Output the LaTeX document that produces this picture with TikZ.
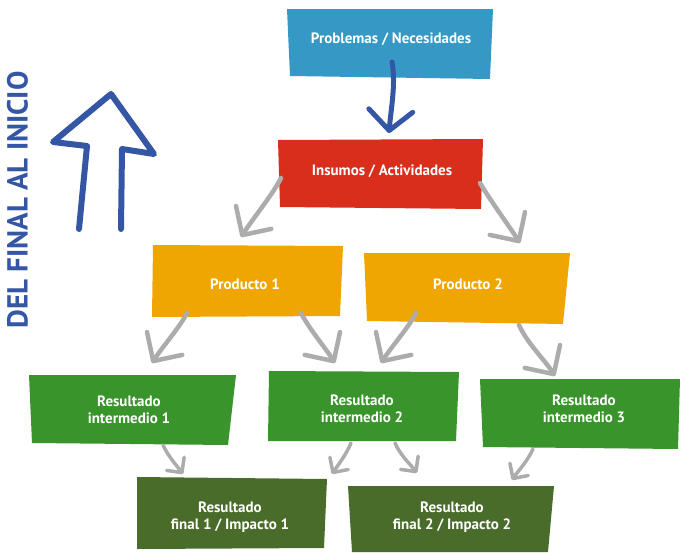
\documentclass[tikz,border=0pt]{standalone}
\usepackage{fontspec}
\setmainfont{PT Sans}
\usetikzlibrary{arrows.meta}
\definecolor{cblue}{RGB}{54,152,196}
\definecolor{cred}{RGB}{218,46,28}
\definecolor{corange}{RGB}{240,166,0}
\definecolor{cgreen}{RGB}{58,148,44}
\definecolor{cdgreen}{RGB}{74,108,42}
\definecolor{cgray}{RGB}{172,172,172}
\definecolor{cnavy}{RGB}{52,86,165}
\tikzset{
  lbl/.style={text=white,align=center,inner sep=0pt,font=\fontsize{15}{17.5}\selectfont\bfseries},
  bigtip/.style={-{Straight Barb[length=21pt,width=42pt,round]}},
  smalltip/.style={-{Straight Barb[length=11pt,width=22pt,round]}},
  garrow/.style={draw=cgray,line width=4.5pt,line cap=round,line join=round},
  sgarrow/.style={draw=cgray,line width=3.5pt,line cap=round,line join=round},
  barrow/.style={draw=cnavy,line width=5pt,line cap=round,line join=round}
}
\begin{document}
\begin{tikzpicture}[x=1pt,y=-1pt]
\useasboundingbox (0,0) rectangle (680,552);
% boxes
\fill[cblue] (287,9) -- (493,9) -- (490,79) -- (290,76) -- cycle;
\fill[cred] (278,140) -- (483,139) -- (481,209) -- (280,207) -- cycle;
\fill[corange] (153,245) -- (343,246) -- (340,316) -- (152,317) -- cycle;
\fill[corange] (364,253) -- (570,253) -- (563,324) -- (367,321) -- cycle;
\fill[cgreen] (29,375) -- (236,375) -- (228,445) -- (32,443) -- cycle;
\fill[cgreen] (269,371) -- (459,372) -- (456,441) -- (268,441) -- cycle;
\fill[cgreen] (480,379) -- (680,379) -- (678,449) -- (483,447) -- cycle;
\fill[cdgreen] (137,477) -- (327,479) -- (324,548) -- (137,549) -- cycle;
\fill[cdgreen] (348,486) -- (554,486) -- (548,552) -- (352,552) -- cycle;
% labels
\node[lbl] (prob) at (391,39) {Problemas / Necesidades};
\node[lbl] (ins) at (382,171) {Insumos / Actividades};
\node[lbl] (p1) at (245,284) {Producto 1};
\node[lbl] (p2) at (468,284) {Producto 2};
\node[lbl] (i1) at (129,410) {Resultado\\intermedio 1};
\node[lbl] (i2) at (362,409) {Resultado\\intermedio 2};
\node[lbl] (i3) at (584,409) {Resultado\\intermedio 3};
\node[lbl] (f1) at (230,517) {Resultado\\final 1 / Impacto 1};
\node[lbl] (f2) at (452,517) {Resultado\\final 2 / Impacto 2};
\node[text=cnavy,rotate=90,inner sep=0pt,font=\fontsize{29}{29}\selectfont\bfseries] (side) at (17.5,200) {DEL FINAL AL INICIO};
% big up arrow
\draw[barrow,line width=6pt] (79,229) -- (87,146) -- (53,142) -- (111,94) -- (154,154) -- (122,149) -- (121,229);
% connectors
\draw[barrow,-{Straight Barb[length=20pt,width=44pt,round]}] ([shift={(1,23)}]prob.center) .. controls +(4,22) and +(2,-25) .. ([shift={(7,-38)}]ins.center);
\draw[garrow,bigtip] ([shift={(-101,7)}]ins.center) .. controls +(-6,13) and +(11,-17) .. ([shift={(-4,-47)}]p1.center);
\draw[garrow,bigtip] ([shift={(98,12)}]ins.center) .. controls +(10,17) and +(-11,-17) .. ([shift={(52,-41)}]p2.center);
\draw[garrow,bigtip] ([shift={(-58,29)}]p1.center) .. controls +(-7,14) and +(11,-17) .. ([shift={(23,-47)}]i1.center);
\draw[garrow,bigtip] ([shift={(56,29)}]p1.center) .. controls +(9,17) and +(-11,-17) .. ([shift={(-27,-46)}]i2.center);
\draw[garrow,bigtip] ([shift={(-52,29)}]p2.center) .. controls +(-7,14) and +(11,-17) .. ([shift={(19,-46)}]i2.center);
\draw[garrow,bigtip] ([shift={(51,41)}]p2.center) .. controls +(8,18) and +(-11,-17) .. ([shift={(-29,-33)}]i3.center);
\draw[sgarrow,smalltip] ([shift={(34,35)}]i1.center) .. controls +(5,11) and +(-6,-8) .. ([shift={(-47,-43)}]f1.center);
\draw[sgarrow,smalltip] ([shift={(-11,34)}]i2.center) .. controls +(-5,12) and +(6,-9) .. ([shift={(102,-43)}]f1.center);
\draw[sgarrow,smalltip] ([shift={(33,34)}]i2.center) .. controls +(5,12) and +(-6,-8) .. ([shift={(-35,-44)}]f2.center);
\draw[sgarrow,smalltip] ([shift={(-51,40)}]i3.center) .. controls +(-6,13) and +(6,-9) .. ([shift={(60,-37)}]f2.center);
\end{tikzpicture}
\end{document}
